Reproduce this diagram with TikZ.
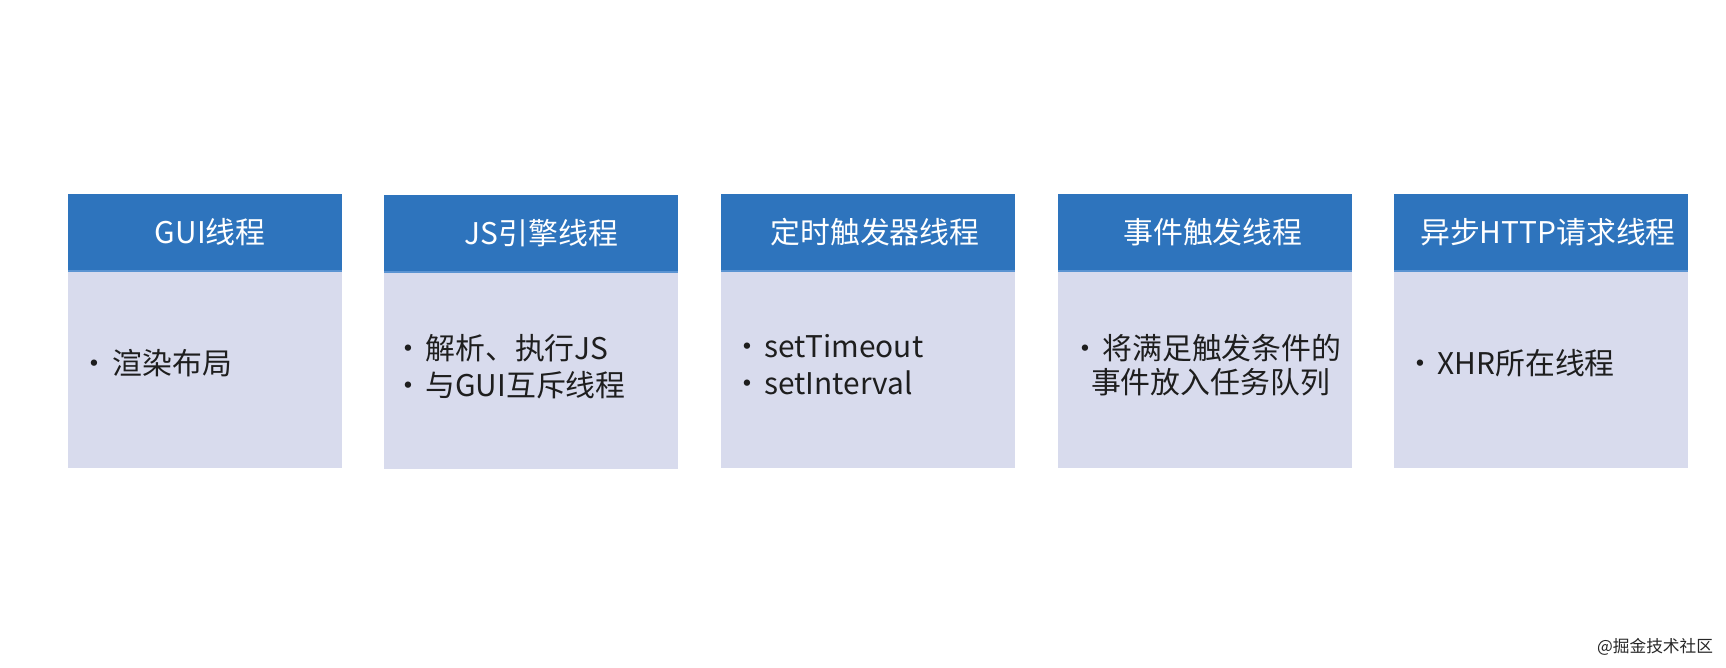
\documentclass[tikz,border=0pt]{standalone}
\usepackage{fontspec}
\setmainfont{Noto Sans CJK SC}
\usetikzlibrary{positioning}
\definecolor{thhead}{HTML}{2E74BD}
\definecolor{thbody}{HTML}{D8DBED}
\definecolor{thline}{HTML}{5B94D2}
\definecolor{thtext}{HTML}{1E1E1E}
\newcommand{\bul}{·\hspace{1.5pt}}

\begin{document}
\begin{tikzpicture}[x=0.02cm, y=-0.02cm,
    every node/.style={font=\fontsize{17}{21}\selectfont, inner sep=0pt, outer sep=0pt},
    head/.style={rectangle, fill=thhead, text=white, minimum height=1.54cm, anchor=north west},
    body/.style={rectangle, fill=thbody, text=thtext, minimum height=3.94cm, draw=none},
    item/.style={align=left, text=thtext, anchor=west}]
            \useasboundingbox (0,0) rectangle (1726,668);

            % Thread headers
            \node[head, minimum width=5.48cm] (gui) at (68,194) {\hspace{6pt}GUI线程};
            \node[head, minimum width=5.88cm] (js) at (384,195) {\hspace{12pt}JS引擎线程};
            \node[head, minimum width=5.88cm] (timer) at (721,194) {\hspace{8pt}定时触发器线程};
            \node[head, minimum width=5.88cm] (event) at (1058,194) {\hspace{9pt}事件触发线程};
            \node[head, minimum width=5.88cm] (http) at (1394,194) {\hspace{8pt}异步HTTP请求线程};

            % Thread bodies
            \node[body, minimum width=5.48cm, below=0pt of gui] (guib) {};
            \node[body, minimum width=5.88cm, below=0pt of js] (jsb) {};
            \node[body, minimum width=5.88cm, below=0pt of timer] (timerb) {};
            \node[body, minimum width=5.88cm, below=0pt of event] (eventb) {};
            \node[body, minimum width=5.88cm, below=0pt of http] (httpb) {};

            % Light edge under each header
            \foreach \t in {gui, js, timer, event, http}
                \draw[thline, line width=1.2pt] (\t.south west) -- (\t.south east);

            % Items
            \node[item, right=0.24cm of guib.west, yshift=0.12cm] (guit) {\bul 渲染布局};
            \node[item, right=0.18cm of jsb.west, yshift=0.08cm] (jst) {\bul 解析、执行JS\\\bul 与GUI互斥线程};
            \node[item, right=0.22cm of timerb.west, yshift=0.09cm] (timert) {\bul setTimeout\\\bul setInterval};
            \node[item, right=0.24cm of eventb.west, yshift=0.09cm, font=\fontsize{17}{19.5}\selectfont] (eventt) {\bul 将满足触发条件的\\\hspace{0.42cm}事件放入任务队列};
            \node[item, right=0.22cm of httpb.west, yshift=0.12cm] (httpt) {\bul XHR所在线程};

            % Watermark
            \node[anchor=east, font=\fontsize{9.5}{11}\selectfont, text=black!85] (mark) at (1713,647) {@掘金技术社区};
        \end{tikzpicture}
\end{document}
